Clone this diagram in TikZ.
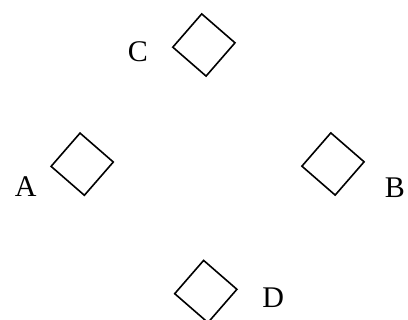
\documentclass[tikz,border=0pt]{standalone}
\usepackage{fontspec}
\setmainfont{Liberation Serif}
\usetikzlibrary{shapes.geometric}
\begin{document}
\begin{tikzpicture}[x=1pt,y=-1pt,
  dia/.style={draw=black, line width=1.6pt, shape=diamond, aspect=1,
    minimum width=63pt, minimum height=63pt, inner sep=0pt, rotate=4},
  lab/.style={inner sep=0pt, font=\fontsize{30}{36}\selectfont}]
\useasboundingbox (0,0) rectangle (408,320);
\node[dia] (c) at (203.9,45) {};
\node[dia] (a) at (82.2,164.2) {};
\node[dia] (b) at (333,164) {};
\node[dia] (d) at (205.8,291.5) {};
\node[lab] (lc) at (137.8,51.3) {C};
\node[lab] (la) at (25.8,186.7) {A};
\node[lab] (lb) at (395,188) {B};
\node[lab] (ld) at (273.3,298) {D};
\end{tikzpicture}
\end{document}
